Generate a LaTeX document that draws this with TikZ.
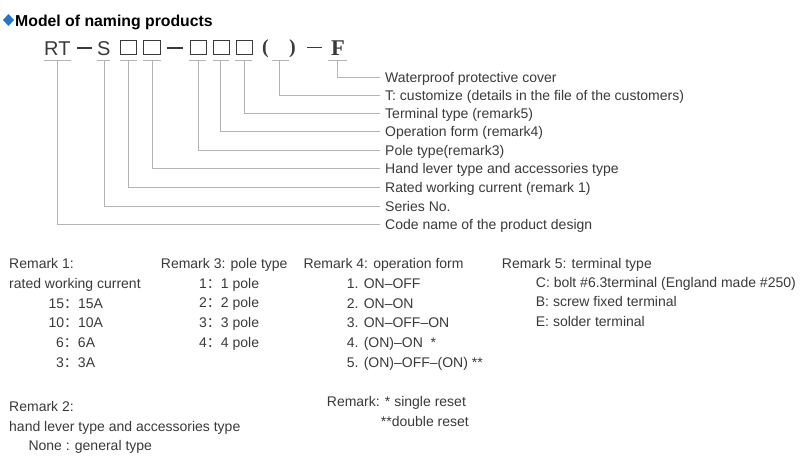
\documentclass[tikz,border=0pt]{standalone}
\usepackage{fontspec}
\setmainfont{Liberation Sans}
\newfontfamily\serf{Liberation Serif}
\newfontfamily\cjk{Noto Sans CJK SC}
\definecolor{txt}{HTML}{3A3A3A}
\definecolor{guidec}{HTML}{B4B4B4}
\definecolor{dia}{HTML}{1F78C8}
\begin{document}
\begin{tikzpicture}[x=1pt,y=-1pt,
  lbl/.style={anchor=base west,inner sep=0pt,text=txt,font=\fontsize{14}{16}\selectfont},
  codetxt/.style={anchor=base west,inner sep=0pt,text=txt,font=\fontsize{20}{22}\selectfont},
  codeserif/.style={anchor=base west,inner sep=0pt,text=txt,font=\serf\bfseries\fontsize{20}{22}\selectfont},
  guide/.style={draw=guidec,line width=0.8pt},
  ul/.style={draw=guidec,line width=0.8pt},
  cbox/.style={draw=txt,line width=0.9pt},
  cdash/.style={draw=txt,line width=1.5pt}]
\useasboundingbox (0,0) rectangle (800,463);
\fill[white] (0,0) rectangle (800,463);
% title
\fill[dia] (8.5,14) -- (14,20) -- (8.5,26) -- (3,20) -- cycle;
\node[anchor=base west,inner sep=0pt,font=\fontsize{15.8}{18}\selectfont\bfseries] (title) at (15,26) {Model of naming products};
% code line
\node[codetxt] (rt) at (44,55) {RT};
\draw[cdash] (77,48) -- (92,48);
\node[codetxt] (s) at (97,55) {S};
\draw[cbox] (120,40) rectangle (136.7,54.3);
\draw[cbox] (143.5,40) rectangle (160,54.3);
\draw[cdash] (167,48) -- (183,48);
\draw[cbox] (190,40) rectangle (206,54.3);
\draw[cbox] (213,40) rectangle (229,54.3);
\draw[cbox] (236,40) rectangle (252,54.3);
\node[codeserif] (lp) at (262,53) {(};
\node[codeserif] (rp) at (289,53) {)};
\draw[cdash] (307,47.5) -- (322,47.5);
\node[codeserif,font=\serf\bfseries\fontsize{22.5}{24}\selectfont] (f) at (331,55) {F};
% underlines
\draw[ul] (44,60) -- (71,60);
\draw[ul] (97,60) -- (110,60);
\draw[ul] (120,60) -- (137,60);
\draw[ul] (143,60) -- (161,60);
\draw[ul] (189,60) -- (206,60);
\draw[ul] (213,60) -- (229,60);
\draw[ul] (235,60) -- (252,60);
\draw[ul] (272,60) -- (289,60);
\draw[ul] (328,60) -- (347,60);
\coordinate (cRT) at (57.3,60);
\coordinate (cS) at (104,60);
\coordinate (cB1) at (128.7,60);
\coordinate (cB2) at (152,60);
\coordinate (cB3) at (198,60);
\coordinate (cB4) at (220.7,60);
\coordinate (cB5) at (244,60);
\coordinate (cP) at (279,60);
\coordinate (cF) at (337,60);
% labels
\node[lbl] (l1) at (385,82.3) {Waterproof protective cover};
\node[lbl] (l2) at (385,100.3) {T: customize (details in the file of the customers)};
\node[lbl] (l3) at (385,118.3) {Terminal type (remark5)};
\node[lbl] (l4) at (385,136.3) {Operation form (remark4)};
\node[lbl] (l5) at (385,155.3) {Pole type(remark3)};
\node[lbl] (l6) at (385,173.8) {Hand lever type and accessories type};
\node[lbl] (l7) at (385,192.3) {Rated working current (remark 1)};
\node[lbl] (l8) at (385,211.3) {Series No.};
\node[lbl] (l9) at (385,229.8) {Code name of the product design};
\draw[guide] (cF) |- ([xshift=-5pt,yshift=5.3pt]l1.base west);
\draw[guide] (cP) |- ([xshift=-5pt,yshift=5.3pt]l2.base west);
\draw[guide] (cB5) |- ([xshift=-5pt,yshift=5.3pt]l3.base west);
\draw[guide] (cB4) |- ([xshift=-5pt,yshift=5.3pt]l4.base west);
\draw[guide] (cB3) |- ([xshift=-5pt,yshift=5.3pt]l5.base west);
\draw[guide] (cB2) |- ([xshift=-5pt,yshift=5.3pt]l6.base west);
\draw[guide] (cB1) |- ([xshift=-5pt,yshift=5.3pt]l7.base west);
\draw[guide] (cS) |- ([xshift=-5pt,yshift=5.3pt]l8.base west);
\draw[guide] (cRT) |- ([xshift=-5pt,yshift=5.3pt]l9.base west);
% remark 1
\node[lbl] (r1a) at (9,268.3) {Remark 1:};
\node[lbl] (r1b) at (9,288.3) {rated working current};
\node[lbl] (r1c) at (48.3,308.1) {15{\cjk ：}15A};
\node[lbl] (r1d) at (48.3,327.9) {10{\cjk ：}10A};
\node[lbl] (r1e) at (56,347.7) {6{\cjk ：}6A};
\node[lbl] (r1f) at (56,367.5) {3{\cjk ：}3A};
% remark 2
\node[lbl] (r2a) at (9,411.5) {Remark 2:};
\node[lbl] (r2b) at (9,431) {hand lever type and accessories type};
\node[lbl] (r2c) at (28.3,450.5) {None : general type};
% remark 3
\node[lbl] (r3a) at (160.7,268.3) {Remark 3: pole type};
\node[lbl] (r3b) at (199,288.1) {1{\cjk ：}1 pole};
\node[lbl] (r3c) at (199,307.9) {2{\cjk ：}2 pole};
\node[lbl] (r3d) at (199,327.7) {3{\cjk ：}3 pole};
\node[lbl] (r3e) at (199,347.3) {4{\cjk ：}4 pole};
% remark 4
\node[lbl] (r4a) at (303.3,268.3) {Remark 4: operation form};
\node[lbl] (r4b) at (346.7,288.3) {1. ON--OFF};
\node[lbl] (r4c) at (346.7,308) {2. ON--ON};
\node[lbl] (r4d) at (346.7,327.5) {3. ON--OFF--ON};
\node[lbl] (r4e) at (346.7,347.2) {4. (ON)--ON\ \ *};
\node[lbl] (r4f) at (346.7,367) {5. (ON)--OFF--(ON) **};
\node[lbl] (r4g) at (326.7,406.7) {Remark: * single reset};
\node[lbl] (r4h) at (380.7,426.7) {**double reset};
% remark 5
\node[lbl] (r5a) at (501.7,268.3) {Remark 5: terminal type};
\node[lbl] (r5b) at (535.7,287.5) {C: bolt \#6.3terminal (England made \#250)};
\node[lbl] (r5c) at (535.7,306.9) {B: screw fixed terminal};
\node[lbl] (r5d) at (535.7,326.3) {E: solder terminal};
\end{tikzpicture}
\end{document}
